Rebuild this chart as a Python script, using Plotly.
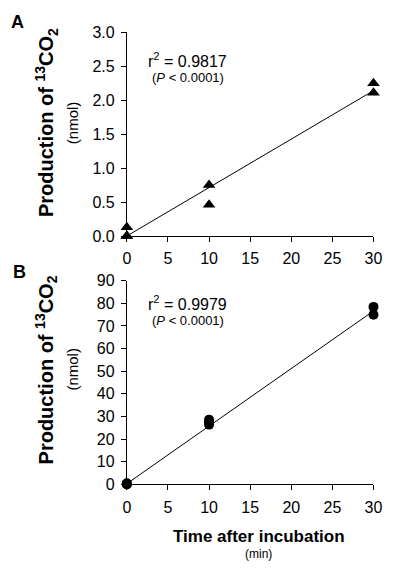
import plotly.graph_objects as go

# Panel A data (triangles)
time_a = [0, 0, 0, 10, 10, 30, 30]
co2_a = [0.13, 0.0, 0.0, 0.75, 0.46, 2.25, 2.11]
fit_x_a = [0, 30]
fit_y_a = [0.0, 2.14]

# Panel B data (circles)
time_b = [0, 0, 0, 10, 10, 10, 30, 30]
co2_b = [0.3, 0.0, 0.5, 28.6, 27.4, 26.4, 78.4, 74.9]
fit_x_b = [0, 30]
fit_y_b = [0.3, 76.6]

x_ticks = [0, 5, 10, 15, 20, 25, 30]
ya_ticks = [0.0, 0.5, 1.0, 1.5, 2.0, 2.5, 3.0]
yb_ticks = [0, 10, 20, 30, 40, 50, 60, 70, 80, 90]

W, H = 397, 571
FONT = "Liberation Sans, Arial, sans-serif"

fig = go.Figure()
fig.add_trace(go.Scatter(x=fit_x_a, y=fit_y_a, mode="lines", line=dict(color="black", width=1),
                         xaxis="x", yaxis="y", showlegend=False, cliponaxis=False))
fig.add_trace(go.Scatter(x=time_a, y=co2_a, mode="markers",
                         marker=dict(symbol="triangle-up", size=11, color="black"),
                         xaxis="x", yaxis="y", showlegend=False, cliponaxis=False))
fig.add_trace(go.Scatter(x=fit_x_b, y=fit_y_b, mode="lines", line=dict(color="black", width=1),
                         xaxis="x2", yaxis="y2", showlegend=False, cliponaxis=False))
fig.add_trace(go.Scatter(x=time_b, y=co2_b, mode="markers",
                         marker=dict(symbol="circle", size=10, color="black"),
                         xaxis="x2", yaxis="y2", showlegend=False, cliponaxis=False))

xl, xr = 127 / W, 382 / W
def ydom(top, bot):
    return [(H - bot) / H, (H - top) / H]

axis_common = dict(showline=True, linecolor="black", linewidth=1, ticks="outside",
                   ticklen=5, tickcolor="black", tickwidth=1, showgrid=False, zeroline=False,
                   tickfont=dict(family=FONT, size=16, color="black"))

fig.update_layout(
    width=W, height=H, margin=dict(l=0, r=0, t=0, b=0),
    paper_bgcolor="white", plot_bgcolor="white",
    font=dict(family=FONT, color="black"),
    xaxis=dict(domain=[xl, xr], range=[0, 30], tickvals=x_ticks, anchor="y",
               ticklabelstandoff=3, **axis_common),
    yaxis=dict(domain=ydom(25, 235), range=[0, 3], tickvals=ya_ticks,
               ticktext=[f"{v:.1f}" for v in ya_ticks], anchor="x", ticklabelstandoff=3, **axis_common),
    xaxis2=dict(domain=[xl, xr], range=[0, 30], tickvals=x_ticks, anchor="y2",
                ticklabelstandoff=3, **axis_common),
    yaxis2=dict(domain=ydom(281, 491), range=[0, 90], tickvals=yb_ticks, anchor="x2",
                ticklabelstandoff=3, **axis_common),
)

def ann(text, x, y, size, bold=False, angle=0):
    fig.add_annotation(text=f"<b>{text}</b>" if bold else text, x=x / W, y=1 - y / H,
                       xref="paper", yref="paper", showarrow=False, textangle=angle,
                       xanchor="center", yanchor="middle",
                       font=dict(family=FONT, size=size, color="black"))

ann("A", 14, 14, 18, bold=True)
ann("B", 16, 272, 18, bold=True)
ytitle = "Production of <sup>13</sup>CO<sub>2</sub>"
ann(ytitle, 44, 118, 20, bold=True, angle=-90)
ann(ytitle, 44, 373, 20, bold=True, angle=-90)
ann("(nmol)", 71, 118, 15, angle=-90)
ann("(nmol)", 71, 372, 15, angle=-90)
ann("r<sup>2</sup> = 0.9817", 190, 54, 16)
ann("(<i>P</i> < 0.0001)", 190, 72, 13)
ann("r<sup>2</sup> = 0.9979", 190, 304, 16)
ann("(<i>P</i> < 0.0001)", 190, 322, 13)
ann("Time after incubation", 264, 545, 17, bold=True)
ann("(min)", 263, 563, 12)

fig.write_html("out.html")
